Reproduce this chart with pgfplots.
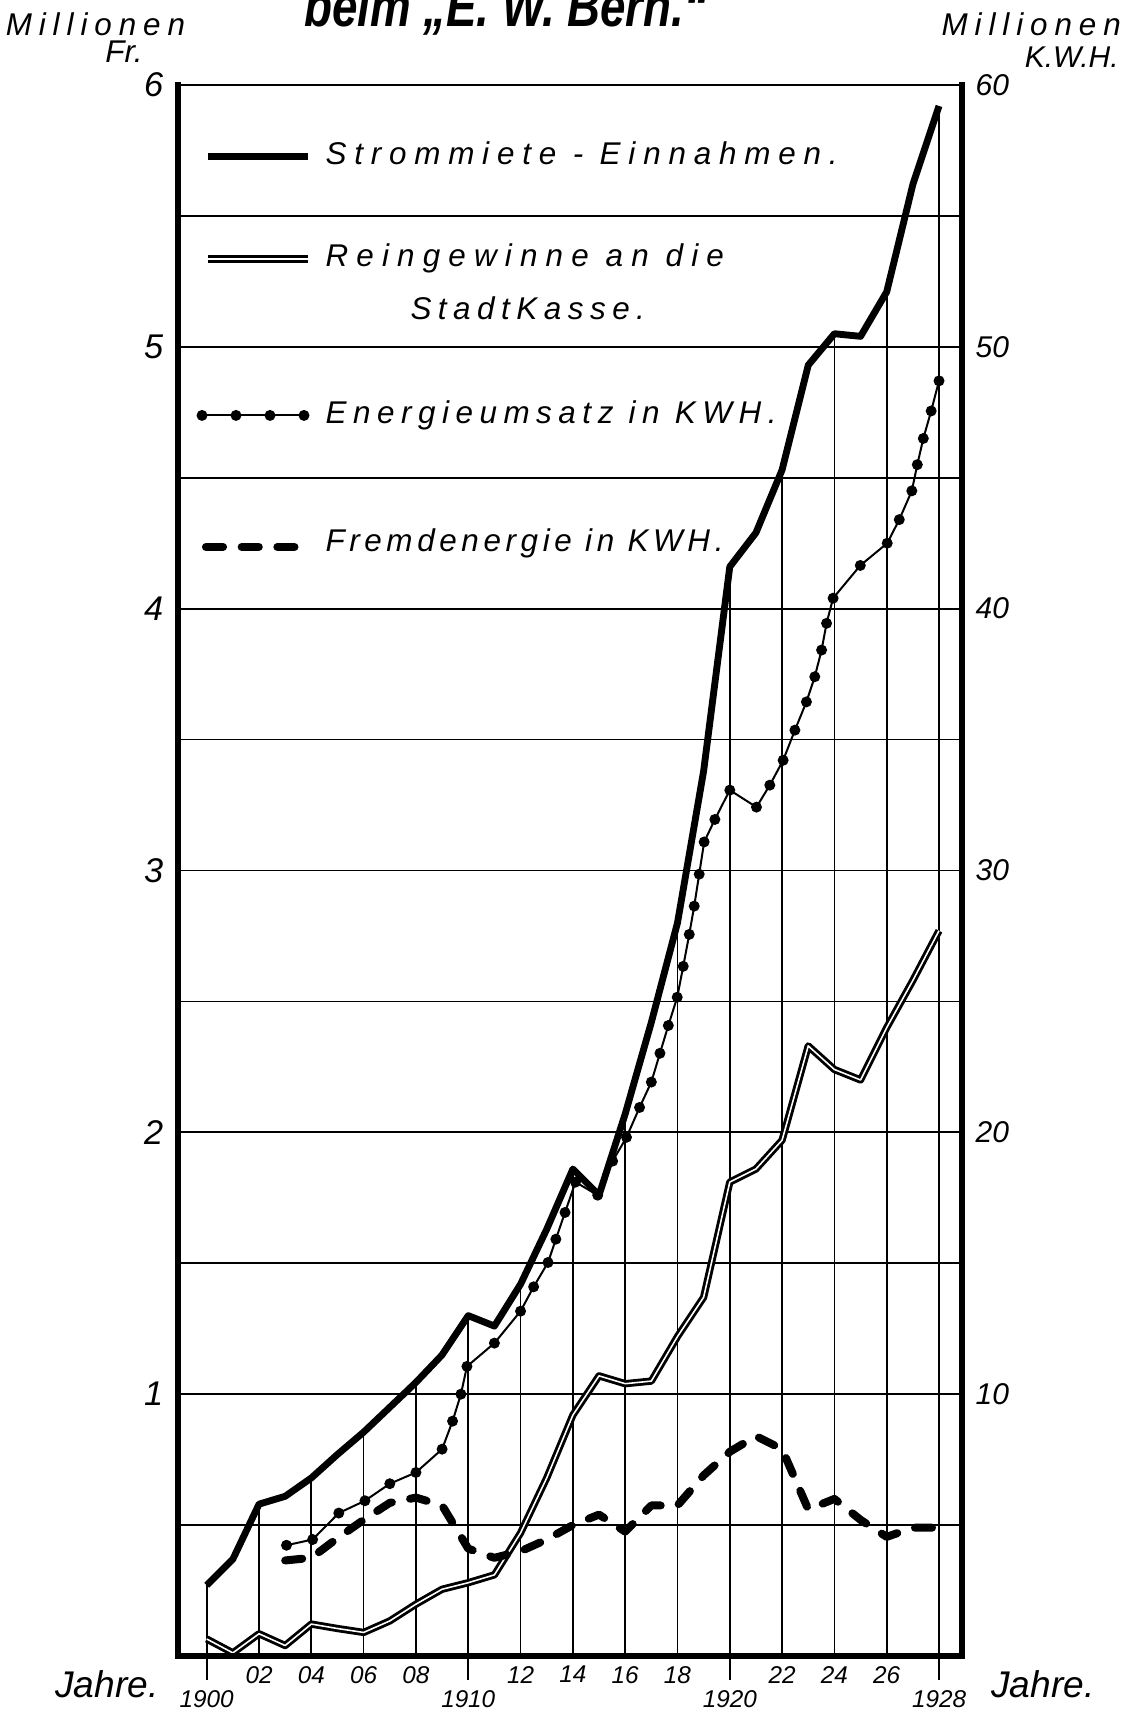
\documentclass[border=0pt]{standalone}
\usepackage{fontspec}
\usepackage{graphicx}
\usepackage{pgfplots}
\pgfplotsset{compat=1.18}
\newfontfamily\handfont{Liberation Sans}[LetterSpace=22]
\newfontfamily\numfont{Liberation Sans}

\pgfplotstableread{
year fr
1900 0.27
1901 0.37
1902 0.58
1903 0.61
1904 0.68
1905 0.77
1906 0.855
1907 0.95
1908 1.045
1909 1.15
1910 1.30
1911 1.26
1912 1.42
1913 1.63
1914 1.86
1915 1.76
1916 2.07
1917 2.42
1918 2.80
1919 3.38
1920 4.16
1921 4.29
1922 4.53
1923 4.93
1924 5.05
1925 5.04
1926 5.21
1927 5.62
1928 5.92
}\strom

\pgfplotstableread{
year fr
1900 0.27
1902 0.58
1904 0.68
1906 0.855
1908 1.045
1910 1.30
1912 1.42
1914 1.86
1916 2.07
1918 2.80
1920 4.16
1922 4.53
1924 5.05
1926 5.21
1928 5.92
}\vgrid

\pgfplotstableread{
year fr
1900 0.065
1901 0.012
1902 0.085
1903 0.04
1904 0.122
1905 0.105
1906 0.09
1907 0.134
1908 0.198
1909 0.255
1910 0.28
1911 0.31
1912 0.47
1913 0.68
1914 0.92
1915 1.07
1916 1.04
1917 1.05
1918 1.22
1919 1.37
1920 1.81
1921 1.86
1922 1.97
1923 2.33
1924 2.24
1925 2.20
1926 2.40
1927 2.58
1928 2.77
}\rein

\pgfplotstableread{
year kwh
1903.05 4.23
1904.05 4.45
1905.05 5.46
1906.05 5.93
1907.0 6.58
1908.0 7.01
1909.0 7.90
1909.4 8.97
1909.72 10.0
1909.95 11.06
1911.0 11.95
1912.0 13.17
1912.5 14.1
1913.05 15.03
1913.35 15.92
1913.7 16.94
1914.1 18.1
1914.95 17.6
1915.52 18.9
1916.05 19.81
1916.55 20.95
1917.0 21.92
1917.33 23.02
1917.65 24.08
1917.99 25.16
1918.22 26.34
1918.45 27.56
1918.64 28.64
1918.83 29.86
1919.02 31.09
1919.43 31.95
1920.0 33.07
1921.02 32.42
1921.53 33.26
1922.04 34.21
1922.49 35.36
1922.93 36.44
1923.25 37.40
1923.51 38.42
1923.70 39.44
1923.95 40.40
1924.99 41.65
1926.02 42.5
1926.48 43.4
1926.96 44.5
1927.17 45.5
1927.4 46.5
1927.7 47.55
1928.0 48.7
}\energie

\pgfplotstableread{
year kwh
1903 3.65
1904 3.75
1905 4.5
1906 5.2
1907 5.85
1908 6.05
1909 5.75
1910 4.1
1911 3.75
1912 4.0
1913 4.45
1914 5.0
1915 5.4
1916 4.75
1917 5.75
1918 5.75
1919 6.9
1920 7.8
1921 8.4
1922 7.9
1923 5.6
1924 6.0
1925 5.2
1926 4.55
1927 4.9
1928 4.9
}\fremd

\pgfplotsset{
  stromstyle/.style={black, line width=2.4pt, line join=round, no markers},
  reinstyle/.style={black, line width=1.0pt, double=white, double distance=0.55pt, line join=round, no markers},
  energiestyle/.style={black, line width=0.7pt, mark=*, mark size=1.55pt,
    mark options={solid, fill=black}},
  fremdstyle/.style={black, line width=2.8pt, line cap=round, line join=round,
    dash pattern=on 6pt off 6.5pt, no markers},
}
\tikzset{
  legtext/.style={anchor=base west, inner sep=0pt, font=\handfont\itshape\fontsize{11}{13}\selectfont},
}

\begin{document}
\begin{tikzpicture}
\path[use as bounding box] (-62.3pt,-20.65pt) rectangle (334.6pt,579.75pt);
\clip (-62.3pt,-20.65pt) rectangle (334.6pt,579.75pt);

\begin{axis}[
  at={(0pt,0pt)}, anchor=south west,
  scale only axis, width=274.4pt, height=550pt,
  xmin=1898.90, xmax=1928.87, ymin=0, ymax=6,
  clip=false,
  axis line style={draw=none},
  tick align=outside,
  major tick length=0pt, minor tick length=0pt,
  xtick pos=bottom, ytick pos=left,
  xtick={1902,1904,1906,1908,1912,1914,1916,1918,1922,1924,1926},
  xticklabels={02,04,06,08,12,14,16,18,22,24,26},
  extra x ticks={1900,1910,1920,1928},
  extra x tick labels={1900,1910,1920,1928},
  extra x tick style={major tick length=8.5pt, tick style={black, line width=0.6pt}},
  xticklabel style={font=\numfont\itshape\fontsize{8.5}{10}\selectfont},
  ytick={1,2,3,4,5,6},
  yticklabels={1,2,3,4,5,6},
  minor ytick={0.5,1.5,2.5,3.5,4.5,5.5},
  ymajorgrids, yminorgrids,
  major grid style={black, line width=0.6pt},
  minor grid style={black, line width=0.6pt},
  yticklabel style={font=\numfont\itshape\fontsize{12}{14}\selectfont, xshift=-1.6pt},
]
\addplot[ycomb, black, line width=0.6pt, no markers, forget plot] table[x=year, y=fr] {\vgrid};
\addplot[stromstyle, forget plot] table[x=year, y=fr] {\strom};
\addplot[reinstyle, forget plot] table[x=year, y=fr] {\rein};

% legend samples
\addplot[stromstyle, line cap=butt, forget plot] coordinates {(1900.05,5.727) (1903.87,5.727)};
\addplot[reinstyle, forget plot] coordinates {(1900.05,5.335) (1903.87,5.335)};
\addplot[energiestyle, forget plot] coordinates {(1899.82,4.738) (1901.12,4.738) (1902.42,4.738) (1903.72,4.738)};
\addplot[fremdstyle, forget plot] coordinates {(1899.97,4.236) (1903.36,4.236)};

\node[legtext] at (axis cs:1904.52,5.698) {\addfontfeature{LetterSpace=24.8}Strommiete - Einnahmen.};
\node[legtext] at (axis cs:1904.52,5.305) {\addfontfeature{LetterSpace=26}Reingewinne an die};
\node[legtext] at (axis cs:1907.77,5.103) {\addfontfeature{LetterSpace=20.7}StadtKasse.};
\node[legtext] at (axis cs:1904.52,4.709) {\addfontfeature{LetterSpace=20.8}Energieumsatz in KWH.};
\node[legtext] at (axis cs:1904.52,4.220) {\addfontfeature{LetterSpace=14.7}Fremdenergie in KWH.};
\end{axis}

\begin{axis}[
  at={(0pt,0pt)}, anchor=south west,
  scale only axis, width=274.4pt, height=550pt,
  xmin=1898.90, xmax=1928.87, ymin=0, ymax=60,
  clip=false,
  axis x line=none, axis y line*=right,
  axis line style={draw=none},
  major tick length=0pt,
  ytick={10,20,30,40,50,60},
  yticklabels={10,20,30,40,50,60},
  yticklabel style={font=\numfont\itshape\fontsize{10.5}{12}\selectfont, xshift=1.3pt},
]
\addplot[fremdstyle] table[x=year, y=kwh] {\fremd};
\addplot[energiestyle] table[x=year, y=kwh] {\energie};

\draw[black, line width=2pt, line cap=rect] (rel axis cs:0,0) -- (rel axis cs:0,1);
\draw[black, line width=2.2pt, line cap=rect] (rel axis cs:1,0) -- (rel axis cs:1,1);
\draw[black, line width=2.4pt, line cap=rect] (rel axis cs:0,0) -- (rel axis cs:1,0);
\draw[black, line width=0.8pt] (rel axis cs:0,1) -- (rel axis cs:1,1);
\end{axis}

\node[font=\handfont\itshape\fontsize{11}{13}\selectfont] at (-28.9pt,571.2pt) {Millionen};
\node[font=\numfont\itshape\fontsize{11}{13}\selectfont] at (-18.9pt,561.6pt) {Fr.};
\node[font=\handfont\itshape\fontsize{11}{13}\selectfont] at (298.7pt,571.2pt) {Millionen};
\node[font=\numfont\itshape\fontsize{10.5}{12}\selectfont] at (312.9pt,559.7pt) {K.W.H.};
\node[font=\numfont\itshape\fontsize{13}{15}\selectfont] at (-24.85pt,-9.8pt) {Jahre.};
\node[font=\numfont\itshape\fontsize{13}{15}\selectfont] at (302.75pt,-9.8pt) {Jahre.};

\node[anchor=base west, inner sep=0pt] at (44pt,570.5pt)
  {\scalebox{0.8}[1]{\numfont\bfseries\itshape\fontsize{20}{24}\selectfont beim „E. W. Bern.“}};
\end{tikzpicture}
\end{document}
